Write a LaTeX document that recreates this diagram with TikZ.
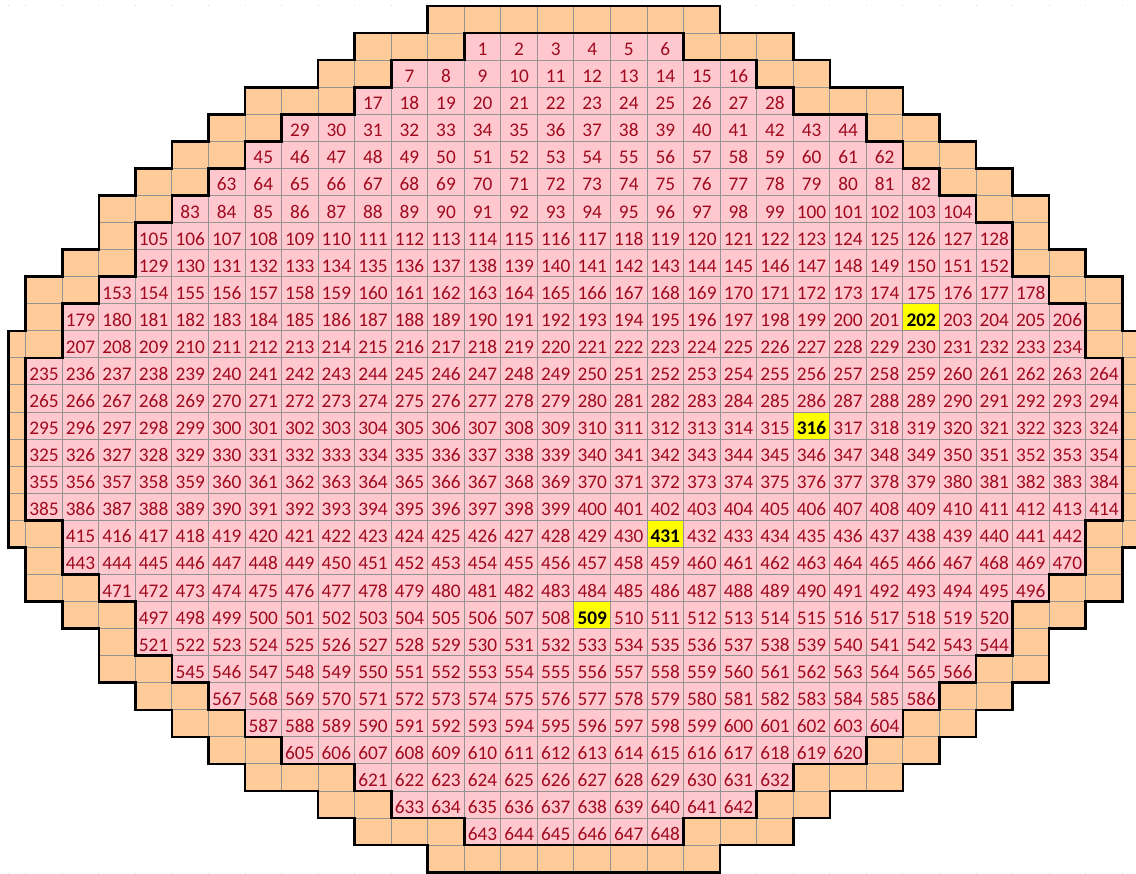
\documentclass[tikz,border=0pt]{standalone}
\usepackage{fontspec}
\setmainfont{Carlito}
\definecolor{pinkc}{HTML}{FFC7CE}
\definecolor{orangec}{HTML}{FFCC99}
\definecolor{txtc}{HTML}{A00A1E}
\definecolor{gridc}{HTML}{939393}
\definecolor{hlc}{HTML}{FFFF00}
\definecolor{dotc}{HTML}{D4D4D4}
\pgfmathdeclarefunction{colx}{1}{\pgfmathparse{(#1==0)*8.3 + (#1==32)*1139.6 + (#1>0)*(#1<32)*(25.7+(#1-1)*36.55)}}
\tikzset{
  cellbox/.style={draw=gridc, line width=1pt},
  numtxt/.style={text=txtc, font=\fontsize{19.3}{19.3}\selectfont, inner sep=0pt, anchor=base},
  hltxt/.style={text=black, font=\fontsize{19.3}{19.3}\selectfont\bfseries, inner sep=0pt, anchor=base},
  bord/.style={line width=2.6pt, black, line join=miter}
}
\begin{document}
\begin{tikzpicture}[x=1pt,y=-1pt]
\useasboundingbox (0,0) rectangle (1136,874);
\clip (0,0) rectangle (1136,874);
% faint gridline dots
\foreach \k in {0,...,31}{
  \fill[dotc] ({colx(\k)-0.5},4.8) rectangle ++(1,1.2);
  \fill[dotc] ({colx(\k)-0.5},872.6) rectangle ++(1,1.2);
}
% cells
\foreach \r/\oL/\pL/\s in {0/12/16/0, 1/10/13/1, 2/9/11/7, 3/7/10/17, 4/6/8/29, 5/5/7/45, 6/4/6/63, 7/3/5/83, 8/3/4/105, 9/2/4/129, 10/1/3/153, 11/1/2/179, 12/0/2/207, 13/0/1/235, 14/0/1/265, 15/0/1/295, 16/0/1/325, 17/0/1/355, 18/0/1/385, 19/0/2/415, 20/1/2/443, 21/1/3/471, 22/2/4/497, 23/3/4/521, 24/3/5/545, 25/4/6/567, 26/5/7/587, 27/6/8/605, 28/7/10/621, 29/9/11/633, 30/10/13/643, 31/12/16/0}{
  \pgfmathtruncatemacro\oR{31-\oL}
  \pgfmathtruncatemacro\pR{31-\pL}
  \pgfmathsetmacro\yt{6+\r*27.07}
  \pgfmathsetmacro\yb{6+(\r+1)*27.07}
  \foreach \c in {\oL,...,\oR}{
    \pgfmathsetmacro\xl{colx(\c)}
    \pgfmathsetmacro\xr{colx(\c+1)}
    \pgfmathtruncatemacro\ispink{(\c>=\pL)&&(\c<=\pR)}
    \ifnum\ispink=1
      \pgfmathtruncatemacro\n{\s+\c-\pL}
      \pgfmathtruncatemacro\hl{(\n==202)||(\n==316)||(\n==431)||(\n==509)}
      \ifnum\hl=1
        \filldraw[cellbox, fill=hlc] (\xl,\yt) rectangle (\xr,\yb);
        \node[hltxt] (n\n) at ({(\xl+\xr)/2},{\yb-4.5}) {\n};
      \else
        \filldraw[cellbox, fill=pinkc] (\xl,\yt) rectangle (\xr,\yb);
        \node[numtxt] (n\n) at ({(\xl+\xr)/2},{\yb-4.5}) {\n};
      \fi
    \else
      \filldraw[cellbox, fill=orangec] (\xl,\yt) rectangle (\xr,\yb);
    \fi
  }
}
% outer thick border
\draw[bord] ({colx(12)},6)
  \foreach \r/\o in {0/12,1/10,2/9,3/7,4/6,5/5,6/4,7/3,8/3,9/2,10/1,11/1,12/0,13/0,14/0,15/0,16/0,17/0,18/0,19/0,20/1,21/1,22/2,23/3,24/3,25/4,26/5,27/6,28/7,29/9,30/10,31/12}{
    -- ({colx(\o)},{6+\r*27.07}) -- ({colx(\o)},{6+(\r+1)*27.07}) }
  \foreach \r/\o in {31/12,30/10,29/9,28/7,27/6,26/5,25/4,24/3,23/3,22/2,21/1,20/1,19/0,18/0,17/0,16/0,15/0,14/0,13/0,12/0,11/1,10/1,9/2,8/3,7/3,6/4,5/5,4/6,3/7,2/9,1/10,0/12}{
    -- ({colx(32-\o)},{6+(\r+1)*27.07}) -- ({colx(32-\o)},{6+\r*27.07}) }
  -- cycle;
% inner thick border (pink region)
\draw[bord] ({colx(13)},{6+27.07})
  \foreach \r/\p in {1/13,2/11,3/10,4/8,5/7,6/6,7/5,8/4,9/4,10/3,11/2,12/2,13/1,14/1,15/1,16/1,17/1,18/1,19/2,20/2,21/3,22/4,23/4,24/5,25/6,26/7,27/8,28/10,29/11,30/13}{
    -- ({colx(\p)},{6+\r*27.07}) -- ({colx(\p)},{6+(\r+1)*27.07}) }
  \foreach \r/\p in {30/13,29/11,28/10,27/8,26/7,25/6,24/5,23/4,22/4,21/3,20/2,19/2,18/1,17/1,16/1,15/1,14/1,13/1,12/2,11/2,10/3,9/4,8/4,7/5,6/6,5/7,4/8,3/10,2/11,1/13}{
    -- ({colx(32-\p)},{6+(\r+1)*27.07}) -- ({colx(32-\p)},{6+\r*27.07}) }
  -- cycle;
\end{tikzpicture}
\end{document}
